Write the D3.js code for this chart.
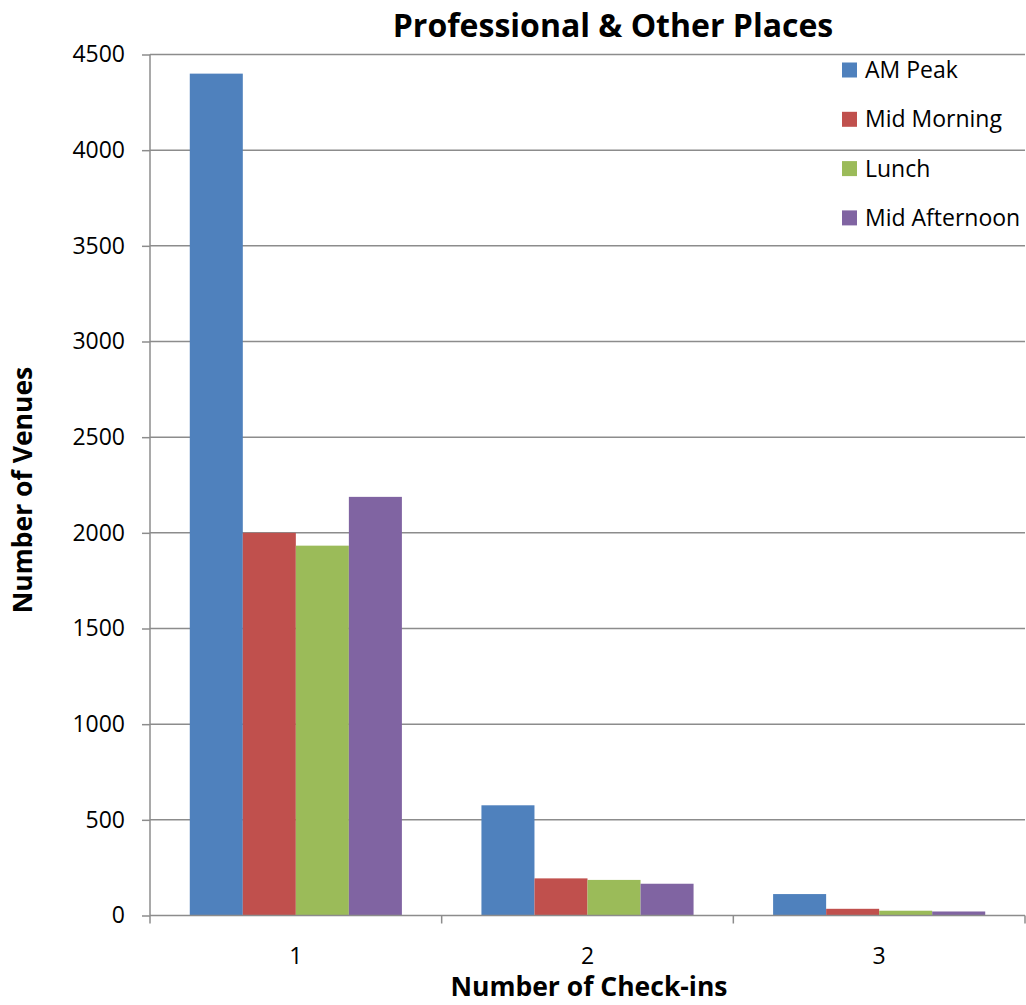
<!DOCTYPE html>
<html>
<head>
<meta charset="utf-8">
<script src="https://cdn.jsdelivr.net/npm/d3@7"></script>
<style>
  html, body { margin: 0; padding: 0; background: #fff; }
  svg { display: block; font-family: "Open Sans", "Liberation Sans", sans-serif; }
</style>
</head>
<body>
<svg id="chart" width="1026" height="1005"></svg>
<script>
// Venue counts by number of check-ins, one series per time of day
const categories = ["1", "2", "3"];
const seriesNames = ["AM Peak", "Mid Morning", "Lunch", "Mid Afternoon"];
const amPeak = [4400, 576, 112];
const midMorning = [2000, 194, 35];
const lunch = [1933, 186, 25];
const midAfternoon = [2188, 166, 21];
const yTicks = [0, 500, 1000, 1500, 2000, 2500, 3000, 3500, 4000, 4500];
const colors = ["#4F81BD", "#C0504D", "#9BBB59", "#8064A2"];

const seriesValues = [amPeak, midMorning, lunch, midAfternoon];

const svg = d3.select("#chart");
const plotLeft = 150, plotRight = 1025, plotTop = 54.5, plotBottom = 915.5;

const x = d3.scaleBand().domain(categories).range([plotLeft, plotRight]).paddingInner(0).paddingOuter(0);
// Excel-style gap width of 150% of a bar
const barW = x.bandwidth() / (seriesNames.length + 1.5);
const xs = d3.scaleBand().domain(seriesNames)
  .range([0.75 * barW, 0.75 * barW + barW * seriesNames.length]);
const y = d3.scaleLinear().domain([0, 4500]).range([plotBottom, plotTop]);

// horizontal gridlines
svg.append("g").selectAll("line").data(yTicks.filter(d => d > 0)).join("line")
  .attr("x1", plotLeft).attr("x2", plotRight)
  .attr("y1", d => y(d)).attr("y2", d => y(d))
  .attr("stroke", "#8c8c8c").attr("stroke-width", 1.5);

// bars
const groups = svg.append("g").selectAll("g").data(seriesNames).join("g")
  .attr("fill", (d, i) => colors[i]);
groups.each(function(name, si) {
  d3.select(this).selectAll("rect").data(categories).join("rect")
    .attr("x", (c) => x(c) + xs(name))
    .attr("width", xs.bandwidth())
    .attr("y", (c, ci) => y(seriesValues[si][ci]))
    .attr("height", (c, ci) => y(0) - y(seriesValues[si][ci]));
});

// y axis
const yAxis = svg.append("g").attr("transform", `translate(${plotLeft},0)`)
  .call(d3.axisLeft(y).tickValues(yTicks).tickSize(8).tickPadding(17).tickFormat(d3.format("d")));
yAxis.select(".domain").attr("stroke", "#8c8c8c").attr("stroke-width", 1.5).attr("d", `M0,${plotTop}V${plotBottom}`);
yAxis.selectAll(".tick line").attr("stroke", "#8c8c8c").attr("stroke-width", 1.5);
yAxis.selectAll(".tick text").attr("font-size", 23).attr("fill", "#000")
  .attr("font-family", "'Open Sans', sans-serif");

// x axis with ticks on category boundaries
const xAxisG = svg.append("g").attr("transform", `translate(0,${plotBottom})`);
xAxisG.append("line").attr("x1", plotLeft).attr("x2", plotRight).attr("y1", 0).attr("y2", 0)
  .attr("stroke", "#8c8c8c").attr("stroke-width", 1.5);
const boundaries = categories.map(c => x(c)).concat([plotRight]);
xAxisG.selectAll("line.tk").data(boundaries).join("line").attr("class", "tk")
  .attr("x1", d => d).attr("x2", d => d).attr("y1", 0).attr("y2", 8)
  .attr("stroke", "#8c8c8c").attr("stroke-width", 1.5);
xAxisG.selectAll("text").data(categories).join("text")
  .attr("x", c => x(c) + x.bandwidth() / 2).attr("y", 48)
  .attr("text-anchor", "middle").attr("font-size", 23).text(c => c);

// titles
svg.append("text").attr("x", 613).attr("y", 37).attr("text-anchor", "middle")
  .attr("font-size", 32).attr("font-weight", "bold").text("Professional & Other Places");
svg.append("text").attr("x", 589).attr("y", 996).attr("text-anchor", "middle")
  .attr("font-size", 26.5).attr("font-weight", "bold").text("Number of Check-ins");
svg.append("text").attr("transform", "translate(32,490) rotate(-90)").attr("text-anchor", "middle")
  .attr("font-size", 26.5).attr("font-weight", "bold").text("Number of Venues");

// legend
const legend = svg.append("g").selectAll("g").data(seriesNames).join("g")
  .attr("transform", (d, i) => `translate(842,${70 + i * 49.3})`);
legend.append("rect").attr("x", 0).attr("y", -7.5).attr("width", 15).attr("height", 15)
  .attr("fill", (d, i) => colors[i]);
legend.append("text").attr("x", 23).attr("y", 0).attr("dy", "0.35em")
  .attr("font-size", 23).text(d => d);
</script>
</body>
</html>
